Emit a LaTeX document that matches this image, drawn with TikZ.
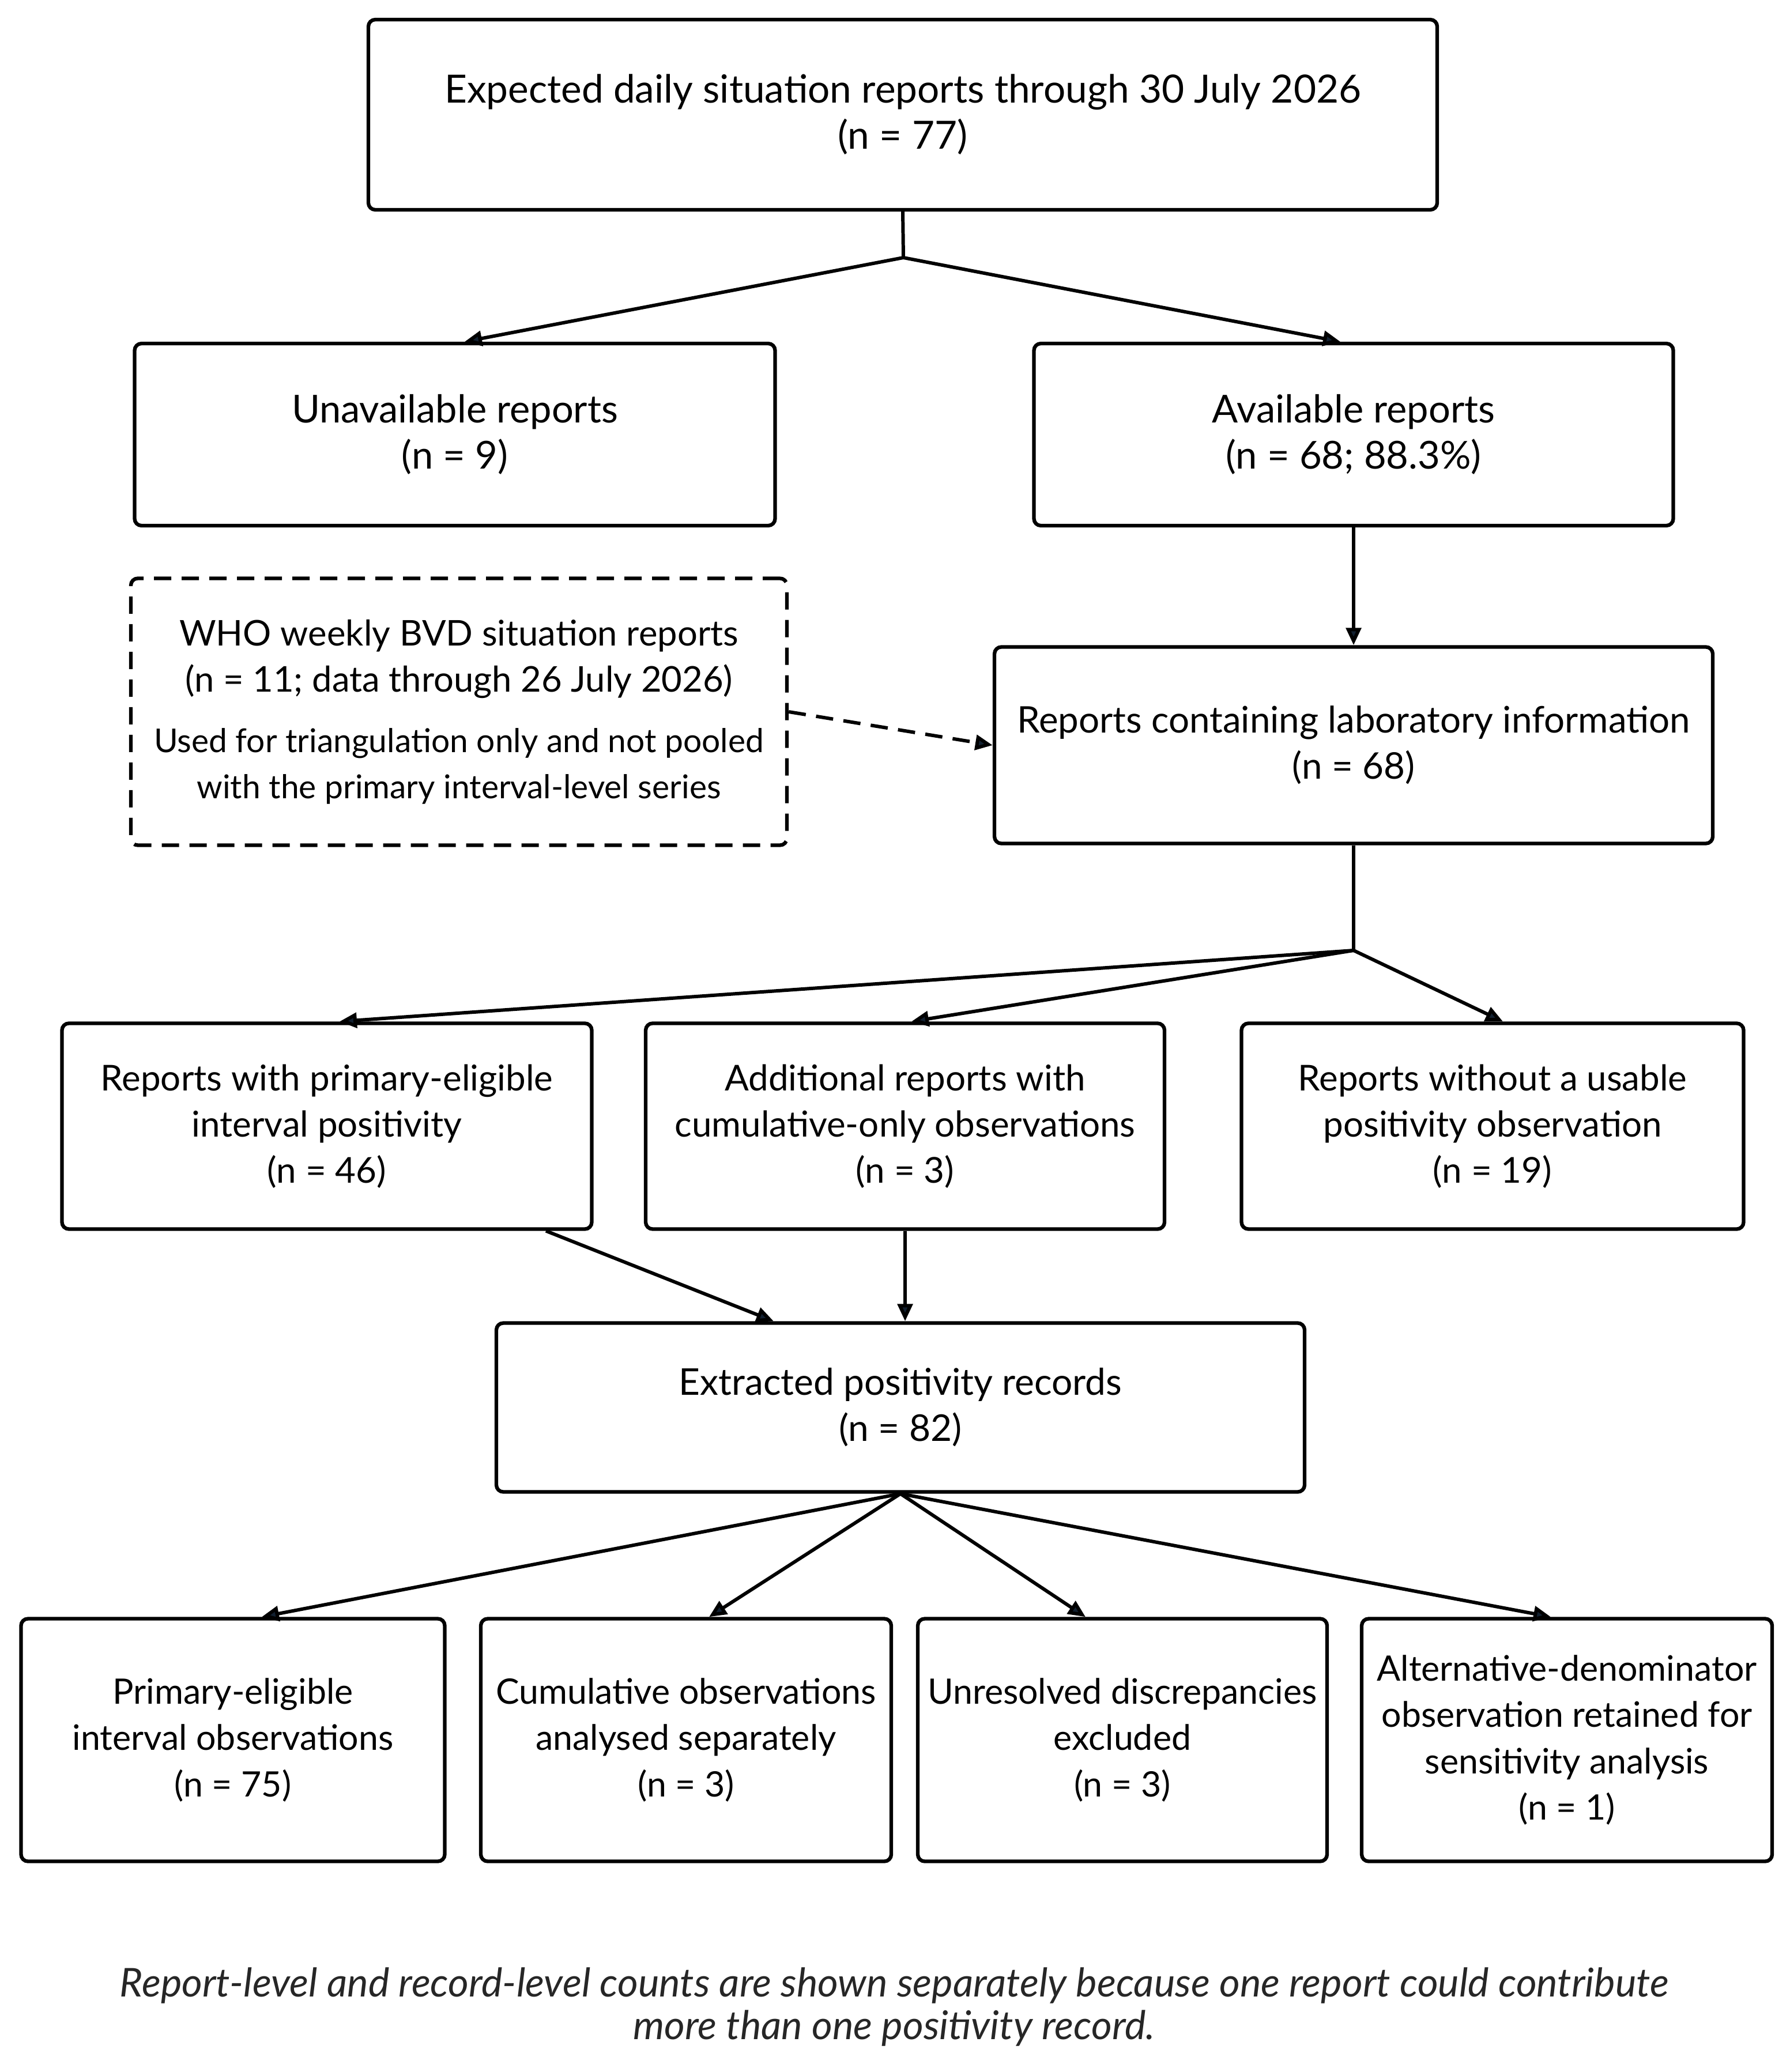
\documentclass[tikz,border=0pt]{standalone}
\usepackage{fontspec}
\setmainfont{Lato}
\usetikzlibrary{arrows.meta}
\definecolor{tipnavy}{RGB}{18,32,48}

\tikzset{
  box/.style={draw, line width=1.8pt, rounded corners=0.12cm, inner sep=0pt,
    align=center, font=\fontsize{17.3}{22.8}\selectfont},
  fsize/.style={font=\fontsize{#1}{22.8}\selectfont},
  link/.style={line width=1.7pt, -{Triangle[length=0.3cm,width=0.26cm,fill=tipnavy]}},
  stem/.style={line width=1.7pt},
}

\begin{document}
\begin{tikzpicture}
    \useasboundingbox (0,0) rectangle (31.04,-35.95);
    % report level
    \node[box, fsize=19.2, minimum width=18.54cm, minimum height=3.30cm] (expected) at (15.66,-1.99)
        {Expected daily situation reports through 30 July 2026\\(n = 77)};
    \node[box, fsize=19, minimum width=11.11cm, minimum height=3.16cm] (unavail) at (7.89,-7.54)
        {Unavailable reports\\(n = 9)};
    \node[box, fsize=19, minimum width=11.09cm, minimum height=3.16cm] (avail) at (23.48,-7.54)
        {Available reports\\(n = 68; 88.3\%)};
    \node[box, fsize=17.5, dashed, dash pattern=on 0.3cm off 0.18cm, minimum width=11.38cm, minimum height=4.63cm] (who) at (7.96,-12.35)
        {WHO weekly BVD situation reports\\(n = 11; data through 26 July 2026)\\[0.25cm]
         {\fontsize{16.2}{20.8}\selectfont Used for triangulation only and not pooled}\\
         {\fontsize{16.2}{20.8}\selectfont with the primary interval-level series}};
    \node[box, fsize=18.1, minimum width=12.46cm, minimum height=3.41cm] (lab) at (23.48,-12.93)
        {Reports containing laboratory information\\(n = 68)};
    \node[box, fsize=17.6, minimum width=9.19cm, minimum height=3.57cm] (prim) at (5.67,-19.54)
        {Reports with primary-eligible\\interval positivity\\(n = 46)};
    \node[box, fsize=17.6, minimum width=9.00cm, minimum height=3.57cm] (cumul) at (15.70,-19.54)
        {Additional reports with\\cumulative-only observations\\(n = 3)};
    \node[box, fsize=17.6, minimum width=8.71cm, minimum height=3.57cm] (nopos) at (25.89,-19.54)
        {Reports without a usable\\positivity observation\\(n = 19)};
    % record level
    \node[box, fsize=18.2, minimum width=14.02cm, minimum height=2.93cm] (extr) at (15.62,-24.42)
        {Extracted positivity records\\(n = 82)};
    \node[box, minimum width=7.35cm, minimum height=4.21cm] (obsprim) at (4.04,-30.19)
        {Primary-eligible\\interval observations\\(n = 75)};
    \node[box, minimum width=7.12cm, minimum height=4.21cm] (obscum) at (11.90,-30.19)
        {Cumulative observations\\analysed separately\\(n = 3)};
    \node[box, minimum width=7.10cm, minimum height=4.21cm] (obsexcl) at (19.47,-30.19)
        {Unresolved discrepancies\\excluded\\(n = 3)};
    \node[box, minimum width=7.12cm, minimum height=4.21cm] (obsalt) at (27.18,-30.19)
        {Alternative-denominator\\observation retained for\\sensitivity analysis\\(n = 1)};
    \node[align=center, text=black!85, font=\itshape\fontsize{19.6}{20.8}\selectfont] (note) at (15.51,-34.82)
        {Report-level and record-level counts are shown separately because one report could contribute\\
         more than one positivity record.};

    % connectors
    \coordinate (split1) at (15.67,-4.47);
    \draw[stem] (expected.south) -- (split1);
    \draw[link] (split1) -- ([xshift=0.17cm]unavail.north);
    \draw[link] (split1) -- ([xshift=-0.23cm]avail.north);
    \draw[link] (avail.south) -- (lab.north);
    \draw[link, dashed, dash pattern=on 0.3cm off 0.18cm] (who.east) -- (lab.west);
    \coordinate (split2) at (23.48,-16.49);
    \draw[stem] (lab.south) -- (split2);
    \draw[link] (split2) -- ([xshift=0.22cm]prim.north);
    \draw[link] (split2) -- ([xshift=0.11cm]cumul.north);
    \draw[link] (split2) -- ([xshift=0.18cm]nopos.north);
    \draw[link] ([xshift=3.8cm]prim.south) -- ([xshift=-2.2cm]extr.north);
    \draw[link] (cumul.south) -- (cumul.south |- extr.north);
    \draw[link] (extr.south) -- ([xshift=0.5cm]obsprim.north);
    \draw[link] (extr.south) -- ([xshift=0.4cm]obscum.north);
    \draw[link] (extr.south) -- ([xshift=-0.64cm]obsexcl.north);
    \draw[link] (extr.south) -- ([xshift=-0.28cm]obsalt.north);
\end{tikzpicture}
\end{document}
